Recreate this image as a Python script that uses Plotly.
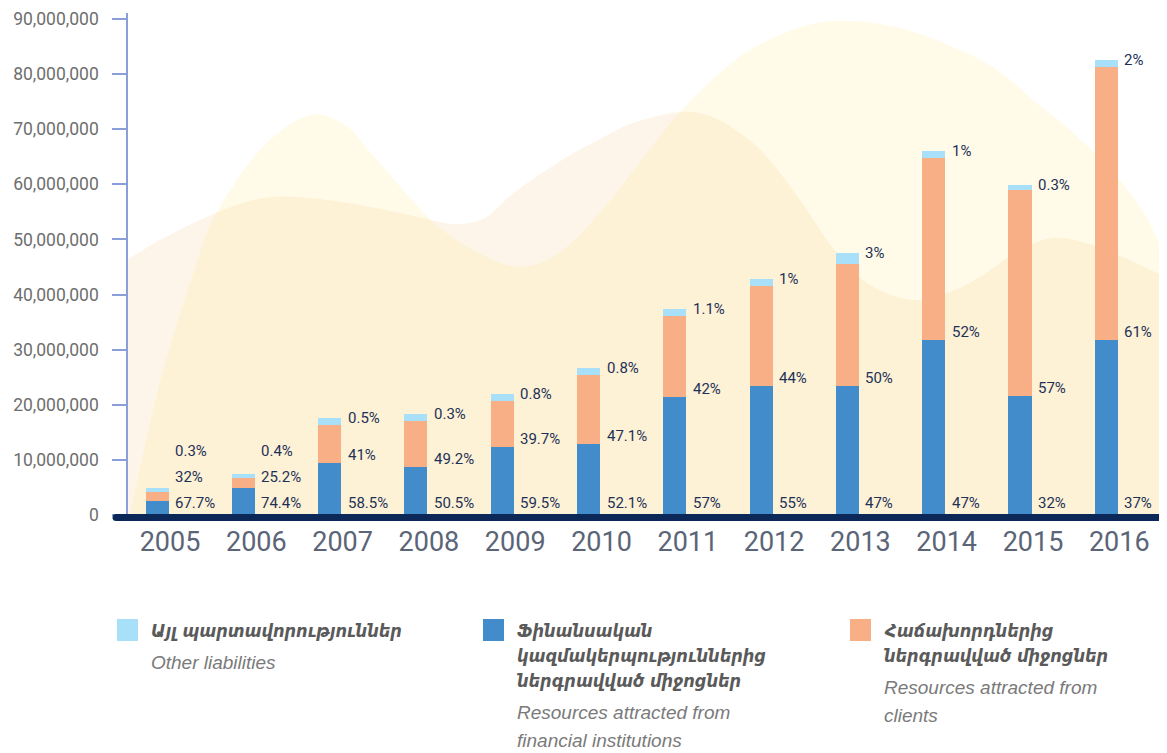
import plotly.graph_objects as go

# ---------------- data ----------------
years = ["2005", "2006", "2007", "2008", "2009", "2010",
         "2011", "2012", "2013", "2014", "2015", "2016"]
financial = [2_600_000, 4_950_000, 9_440_000, 8_710_000, 12_340_000, 12_890_000,
             21_470_000, 23_410_000, 23_410_000, 31_760_000, 21_600_000, 31_760_000]
clients = [1_630_000, 1_820_000, 6_890_000, 8_350_000, 8_350_000, 12_510_000,
           14_700_000, 18_150_000, 22_200_000, 33_030_000, 37_380_000, 49_550_000]
other = [720_000, 670_000, 1_270_000, 1_270_000, 1_270_000, 1_330_000,
         1_220_000, 1_270_000, 1_940_000, 1_270_000, 910_000, 1_270_000]

financial_pct = ["67.7%", "74.4%", "58.5%", "50.5%", "59.5%", "52.1%",
                 "57%", "55%", "47%", "47%", "32%", "37%"]
clients_pct = ["32%", "25.2%", "41%", "49.2%", "39.7%", "47.1%",
               "42%", "44%", "50%", "52%", "57%", "61%"]
other_pct = ["0.3%", "0.4%", "0.5%", "0.3%", "0.8%", "0.8%",
             "1.1%", "1%", "3%", "1%", "0.3%", "2%"]

y_ticks = [0, 10_000_000, 20_000_000, 30_000_000, 40_000_000, 50_000_000,
           60_000_000, 70_000_000, 80_000_000, 90_000_000]

legend_items = [
    ("#a9e0f9", ["Այլ պարտավորություններ"], ["Other liabilities"]),
    ("#428ccb", ["Ֆինանսական", "կազմակերպություններից", "ներգրավված միջոցներ"],
     ["Resources attracted from", "financial institutions"]),
    ("#f8af86", ["Հաճախորդներից", "ներգրավված միջոցներ"],
     ["Resources attracted from", "clients"]),
]

# ---------------- layout geometry ----------------
# the page body adds an 8px margin; work in screen pixels and compensate
OFF = 8
SCREEN_W, SCREEN_H = 1167, 753
PLOT_L, PLOT_T, PLOT_R, PLOT_B = 128, 13, 1167, 515
W, H = SCREEN_W - OFF, SCREEN_H - OFF
PW = PLOT_R - PLOT_L
PH = PLOT_B - PLOT_T
ML, MT = PLOT_L - OFF, PLOT_T - OFF
MR = W - ML - PW
MB = H - MT - PH
Y_MAX = 91_100_000
X_RANGE = [-0.487, 11.553]
BAR_W = 0.267
BAR_OFF = -0.284

C_FIN = "#428ccb"
C_CLI = "#f8af86"
C_OTH = "#a9e0f9"
C_LABEL = "#1d3157"
C_AXIS = "#8a9fd9"
C_BASE = "#0b2859"

PCT_FONT = dict(family="Roboto", size=15, color=C_LABEL)


def px_to_paper(px, py):
    return (px - PLOT_L) / PW, (PLOT_B - py) / PH


def smooth_path(pts, bottom_y):
    p = [px_to_paper(*q) for q in pts]
    d = f"M{p[0][0]:.5f},{p[0][1]:.5f}"
    n = len(p)
    for i in range(n - 1):
        p0 = p[i - 1] if i > 0 else p[i]
        p1, p2 = p[i], p[i + 1]
        p3 = p[i + 2] if i + 2 < n else p[i + 1]
        c1 = (p1[0] + (p2[0] - p0[0]) / 6, p1[1] + (p2[1] - p0[1]) / 6)
        c2 = (p2[0] - (p3[0] - p1[0]) / 6, p2[1] - (p3[1] - p1[1]) / 6)
        d += (f" C{c1[0]:.5f},{c1[1]:.5f} {c2[0]:.5f},{c2[1]:.5f}"
              f" {p2[0]:.5f},{p2[1]:.5f}")
    _, by = px_to_paper(0, bottom_y)
    d += f" L{p[-1][0]:.5f},{by:.5f} L{p[0][0]:.5f},{by:.5f} Z"
    return d


# decorative background blobs (outline in screen pixels)
yellow_blob = [(130, 515), (160, 382), (197, 262), (217, 212), (260, 150), (307, 116),
               (345, 125), (377, 160), (433, 222), (477, 252), (520, 267), (560, 252),
               (600, 213), (640, 162), (680, 112), (733, 62), (780, 35), (833, 21),
               (900, 28), (960, 50), (1000, 72), (1033, 100), (1070, 130), (1113, 172),
               (1145, 215), (1167, 262)]
peach_blob = [(128, 259), (160, 240), (200, 220), (240, 204), (273, 197), (310, 198),
              (360, 205), (400, 213), (440, 222), (460, 224), (485, 218), (510, 196),
              (530, 181), (567, 157), (600, 139), (633, 123), (680, 112), (710, 116),
              (740, 133), (767, 157), (800, 200), (833, 248), (870, 285), (913, 300),
              (950, 292), (980, 277), (1020, 250), (1053, 238), (1085, 243), (1113, 253),
              (1140, 265), (1167, 278)]

fig = go.Figure()

for name, vals, col in [("Financial institutions", financial, C_FIN),
                        ("Clients", clients, C_CLI),
                        ("Other liabilities", other, C_OTH)]:
    fig.add_trace(go.Bar(x=years, y=vals, name=name, marker=dict(color=col, line=dict(width=0)),
                         width=BAR_W, offset=BAR_OFF, hoverinfo="x+y"))

# ---------------- percentage labels ----------------
ppu = PH / Y_MAX
BOTTOM_PX = 12
GAP = 26
annotations = []
for i, yr in enumerate(years):
    annotations.append(dict(x=i, y=0, xref="x", yref="y", text=financial_pct[i],
                            showarrow=False, xanchor="left", yanchor="middle",
                            xshift=3, yshift=BOTTOM_PX, font=PCT_FONT))
    blue_px = financial[i] * ppu
    mid_px = max(blue_px + 8, BOTTOM_PX + GAP)
    annotations.append(dict(x=i, y=financial[i], xref="x", yref="y", text=clients_pct[i],
                            showarrow=False, xanchor="left", yanchor="middle",
                            xshift=3, yshift=mid_px - blue_px, font=PCT_FONT))
    total = financial[i] + clients[i] + other[i]
    tot_px = total * ppu
    top_px = max(tot_px, mid_px + GAP)
    annotations.append(dict(x=i, y=total, xref="x", yref="y", text=other_pct[i],
                            showarrow=False, xanchor="left", yanchor="middle",
                            xshift=3, yshift=top_px - tot_px, font=PCT_FONT))

# ---------------- background + legend (custom) ----------------
shapes = [
    dict(type="path", path=smooth_path(yellow_blob, 515), xref="paper", yref="paper",
         fillcolor="rgba(255,228,102,0.15)", line=dict(width=0), layer="below"),
    dict(type="path", path=smooth_path(peach_blob, 515), xref="paper", yref="paper",
         fillcolor="rgba(240,178,93,0.13)", line=dict(width=0), layer="below"),
]

legend_x = [117, 483, 850]
ARM_FONT = dict(family="DejaVu Sans Condensed, DejaVu Sans", size=18, color="#5a5a5a")
ENG_FONT = dict(family="Liberation Sans, Arial", size=19, color="#7a7a7a")
for (col, arm_lines, eng_lines), lx in zip(legend_items, legend_x):
    x0, y0 = px_to_paper(lx, 619)
    x1, y1 = px_to_paper(lx + 21, 641)
    shapes.append(dict(type="rect", xref="paper", yref="paper", x0=x0, x1=x1, y0=y0, y1=y1,
                       fillcolor=col, line=dict(width=0)))
    ty = 630
    tx, _ = px_to_paper(lx + 32, 0)
    for line in arm_lines:
        annotations.append(dict(x=tx, y=px_to_paper(0, ty)[1], xref="paper", yref="paper",
                                text=f"<b><i>{line}</i></b>", showarrow=False,
                                xanchor="left", yanchor="middle", font=ARM_FONT))
        ty += 25
    ty += 7
    for line in eng_lines:
        annotations.append(dict(x=tx, y=px_to_paper(0, ty)[1], xref="paper", yref="paper",
                                text=f"<i>{line}</i>", showarrow=False,
                                xanchor="left", yanchor="middle", font=ENG_FONT))
        ty += 28

# baseline (thick navy bar with rounded left end)
bx0, _ = px_to_paper(116, 0)
_, by = px_to_paper(0, 517.5)
shapes.append(dict(type="line", xref="paper", yref="paper", x0=bx0, x1=1, y0=by, y1=by,
                   line=dict(color=C_BASE, width=7), layer="above"))
shapes.append(dict(type="circle", xref="paper", yref="paper", xsizemode="pixel",
                   ysizemode="pixel", xanchor=bx0, yanchor=by, x0=-3.5, x1=3.5,
                   y0=-3.5, y1=3.5, fillcolor=C_BASE, line=dict(width=0), layer="above"))

fig.update_layout(
    width=W, height=H,
    margin=dict(l=ML, r=MR, t=MT, b=MB, pad=0, autoexpand=False),
    paper_bgcolor="white", plot_bgcolor="rgba(0,0,0,0)",
    barmode="stack", showlegend=False,
    shapes=shapes, annotations=annotations,
    xaxis=dict(type="category", categoryorder="array", categoryarray=years,
               range=X_RANGE, showgrid=False, zeroline=False, showline=False,
               ticks="", ticklabelstandoff=8, automargin=False,
               tickfont=dict(family="Roboto", size=27, color="#5b6577")),
    yaxis=dict(range=[0, Y_MAX], tickvals=y_ticks, tickformat=",",
               showgrid=False, zeroline=False, showline=True, linecolor=C_AXIS,
               linewidth=1.5, ticks="outside", ticklen=14, tickcolor=C_AXIS,
               tickwidth=1.5, ticklabelstandoff=10, automargin=False,
               tickfont=dict(family="Roboto", size=17.5, color="#6e6e6e")),
)

fig.write_html("out.html")
